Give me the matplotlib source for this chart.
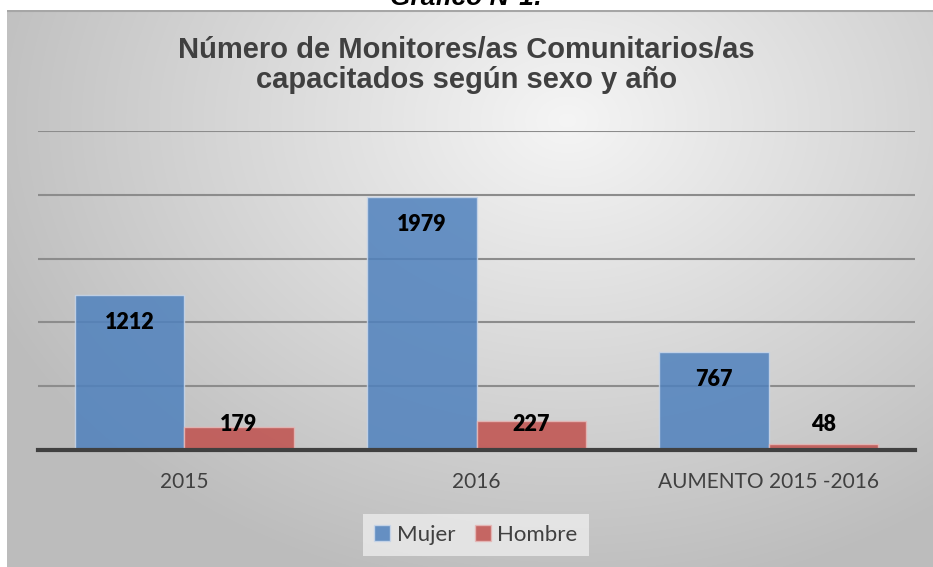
import numpy as np
import matplotlib
matplotlib.use('Agg')
import matplotlib.pyplot as plt
from matplotlib.patches import Patch

categorias = ['2015', '2016', 'AUMENTO 2015 -2016']
mujer = [1212, 1979, 767]
hombre = [179, 227, 48]
series_nombres = ['Mujer', 'Hombre']
color_mujer = '#4F81BD'
color_hombre = '#C0504D'

W, H = 933, 567
fig = plt.figure(figsize=(W / 100, H / 100), dpi=100, facecolor='white')

# fondo con degradado radial (como el grafico de Excel)
bg = fig.add_axes([7 / W, 0, 1 - 7 / W, 1 - 10 / H])
yy, xx = np.mgrid[0:557, 0:926]
d = np.sqrt(((xx - 560) / 650.0) ** 2 + ((yy - 110) / 500.0) ** 2)
g = np.clip(0.96 - 0.23 * d, 0.74, 1.0)
bg.imshow(np.dstack([g, g, g]), aspect='auto', interpolation='bilinear')
bg.axhline(0.5, color='#a6a6a6', lw=1.5)
bg.set_axis_off()

fig.text(0.5, 1 - 5 / H, 'Gráfico N°1:', ha='center', va='baseline',
         fontsize=19, fontweight='bold', style='italic', family='Liberation Sans')

fig.text(0.5, 1 - 65 / H, 'Número de Monitores/as Comunitarios/as\ncapacitados según sexo y año',
         ha='center', va='center', fontsize=21, fontweight='bold', color='#404040',
         family='Liberation Sans', linespacing=1.12)

ax = fig.add_axes([38 / W, 1 - 450 / H, (915 - 38) / W, (450 - 131) / H])
ax.set_facecolor('none')
x = np.arange(len(categorias))
w = 0.375
ax.bar(x - w / 2, mujer, w, color=color_mujer, alpha=0.85, edgecolor='#c9d7ea', linewidth=1, zorder=3)
ax.bar(x + w / 2, hombre, w, color=color_hombre, alpha=0.85, edgecolor='#e6b9b8', linewidth=1, zorder=3)

for xi, v in zip(x, mujer):
    ax.annotate(str(v), (xi - w / 2, v), xytext=(0, -19.5), textcoords='offset points',
                ha='center', va='center', fontsize=15.5, fontweight='heavy', family='Lato', zorder=5)
for xi, v in zip(x, hombre):
    ax.annotate(str(v), (xi + w / 2, 0), xytext=(0, 18.7), textcoords='offset points',
                ha='center', va='center', fontsize=15.5, fontweight='heavy', family='Lato', zorder=5)

ax.set_xlim(-0.5, 2.5)
ax.set_ylim(0, 2500)
ax.set_yticks([500, 1000, 1500, 2000, 2500])
ax.yaxis.grid(True, color='#8c8c8c', lw=1.5, zorder=1)
ax.tick_params(axis='y', left=False, labelleft=False)
ax.set_xticks(x)
ax.set_xticklabels(categorias, fontsize=15, family='Lato', color='#404040')
ax.tick_params(axis='x', length=0, pad=16)
for s in ['top', 'right', 'left']:
    ax.spines[s].set_visible(False)
ax.spines['bottom'].set_color('#404040')
ax.spines['bottom'].set_linewidth(3)
ax.spines['bottom'].set_zorder(4)

handles = [Patch(facecolor=color_mujer, alpha=0.85, edgecolor='#c9d7ea'),
           Patch(facecolor=color_hombre, alpha=0.85, edgecolor='#e6b9b8')]
leg = fig.legend(handles, series_nombres, loc='center', bbox_to_anchor=(476 / W, 1 - 535 / H),
                 ncol=2, frameon=True, fancybox=False, handlelength=0.7, handleheight=0.7,
                 handletextpad=0.3, columnspacing=0.9, borderpad=0.5,
                 prop={'family': 'Lato', 'size': 16})
leg.get_frame().set_facecolor('#ececec')
leg.get_frame().set_edgecolor('none')
leg.get_frame().set_alpha(0.8)
for t in leg.get_texts():
    t.set_color('#404040')

fig.savefig('out.png', dpi=100)
